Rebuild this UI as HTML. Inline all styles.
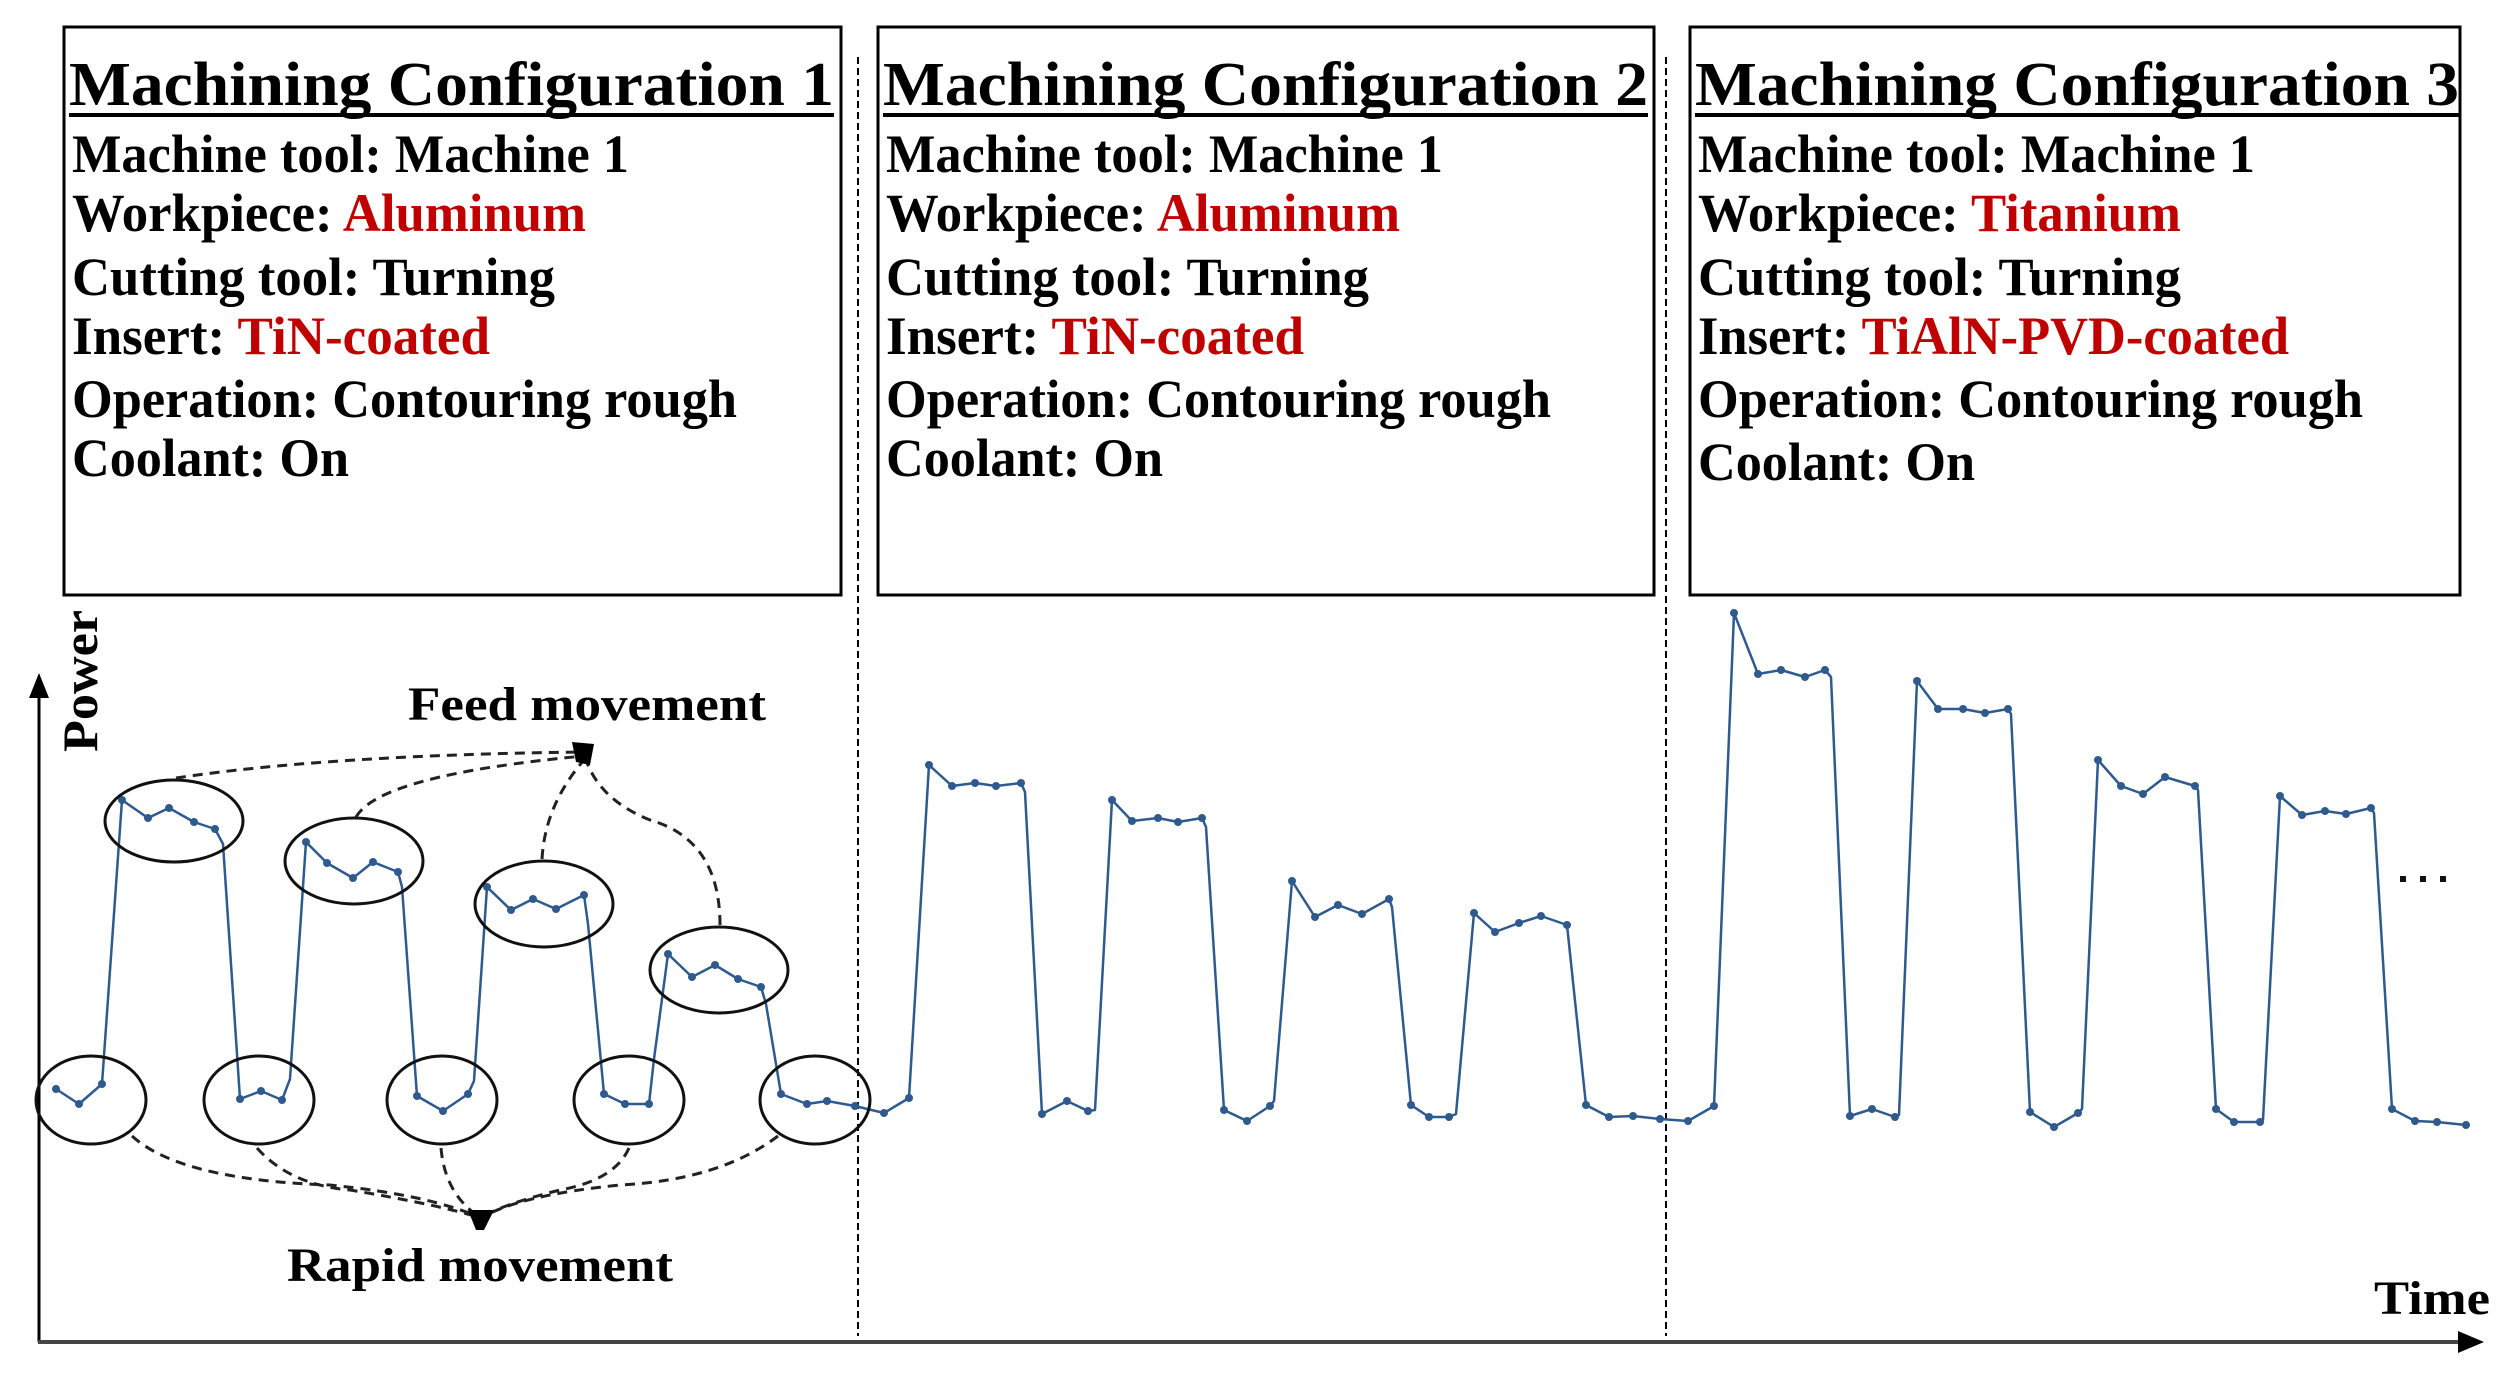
<!DOCTYPE html>
<html><head><meta charset="utf-8"><style>
html,body{margin:0;padding:0;background:#fff;}
svg{display:block;}
text{font-family:"Liberation Serif",serif;font-weight:bold;}
</style></head><body>
<svg width="2504" height="1382" viewBox="0 0 2504 1382" xmlns="http://www.w3.org/2000/svg">
<defs>
<g id="dummy"></g>
</defs>
<!-- boxes -->
<rect x="64" y="27" width="777" height="568" fill="none" stroke="#000" stroke-width="3"/>
<rect x="878" y="27" width="776" height="568" fill="none" stroke="#000" stroke-width="3"/>
<rect x="1690" y="27" width="770" height="568" fill="none" stroke="#000" stroke-width="3"/>

<!-- box1 text -->
<g font-size="62">
<text x="69" y="105" textLength="765" lengthAdjust="spacingAndGlyphs">Machining Configuration 1</text>
<text x="883" y="105" textLength="765" lengthAdjust="spacingAndGlyphs">Machining Configuration 2</text>
<text x="1695" y="105" textLength="764" lengthAdjust="spacingAndGlyphs">Machining Configuration 3</text>
</g>
<line x1="69" y1="115" x2="834" y2="115" stroke="#000" stroke-width="4"/>
<line x1="883" y1="115" x2="1648" y2="115" stroke="#000" stroke-width="4"/>
<line x1="1695" y1="115" x2="2459" y2="115" stroke="#000" stroke-width="4"/>

<g font-size="54">
<text x="72" y="172" textLength="557" lengthAdjust="spacingAndGlyphs">Machine tool: Machine 1</text>
<text x="72" y="231" textLength="514" lengthAdjust="spacingAndGlyphs">Workpiece: <tspan fill="#c00000">Aluminum</tspan></text>
<text x="72" y="295" textLength="483" lengthAdjust="spacingAndGlyphs">Cutting tool: Turning</text>
<text x="72" y="354" textLength="418" lengthAdjust="spacingAndGlyphs">Insert: <tspan fill="#c00000">TiN-coated</tspan></text>
<text x="72" y="417" textLength="665" lengthAdjust="spacingAndGlyphs">Operation: Contouring rough</text>
<text x="72" y="476" textLength="277" lengthAdjust="spacingAndGlyphs">Coolant: On</text>

<text x="886" y="172" textLength="557" lengthAdjust="spacingAndGlyphs">Machine tool: Machine 1</text>
<text x="886" y="231" textLength="514" lengthAdjust="spacingAndGlyphs">Workpiece: <tspan fill="#c00000">Aluminum</tspan></text>
<text x="886" y="295" textLength="483" lengthAdjust="spacingAndGlyphs">Cutting tool: Turning</text>
<text x="886" y="354" textLength="418" lengthAdjust="spacingAndGlyphs">Insert: <tspan fill="#c00000">TiN-coated</tspan></text>
<text x="886" y="417" textLength="665" lengthAdjust="spacingAndGlyphs">Operation: Contouring rough</text>
<text x="886" y="476" textLength="277" lengthAdjust="spacingAndGlyphs">Coolant: On</text>

<text x="1698" y="172" textLength="557" lengthAdjust="spacingAndGlyphs">Machine tool: Machine 1</text>
<text x="1698" y="231" textLength="483" lengthAdjust="spacingAndGlyphs">Workpiece: <tspan fill="#c00000">Titanium</tspan></text>
<text x="1698" y="295" textLength="483" lengthAdjust="spacingAndGlyphs">Cutting tool: Turning</text>
<text x="1698" y="354" textLength="591" lengthAdjust="spacingAndGlyphs">Insert: <tspan fill="#c00000">TiAlN-PVD-coated</tspan></text>
<text x="1698" y="417" textLength="665" lengthAdjust="spacingAndGlyphs">Operation: Contouring rough</text>
<text x="1698" y="480" textLength="277" lengthAdjust="spacingAndGlyphs">Coolant: On</text>
</g>

<!-- dividers -->
<line x1="858" y1="57" x2="858" y2="1336" stroke="#000" stroke-width="2" stroke-dasharray="7,4"/>
<line x1="1666" y1="57" x2="1666" y2="1336" stroke="#000" stroke-width="2" stroke-dasharray="7,4"/>

<!-- axes -->
<line x1="39" y1="1342" x2="39" y2="690" stroke="#000" stroke-width="3"/>
<polygon points="39,673 29,698 49,698" fill="#000"/>
<line x1="38" y1="1342" x2="2465" y2="1342" stroke="#444" stroke-width="4"/>
<polygon points="2484,1342 2458,1331 2458,1353" fill="#000"/>

<text font-size="50" transform="translate(97,752) rotate(-90)" textLength="142" lengthAdjust="spacingAndGlyphs">Power</text>
<text x="408" y="720" font-size="48" textLength="358" lengthAdjust="spacingAndGlyphs">Feed movement</text>
<text x="287" y="1281" font-size="48" textLength="386" lengthAdjust="spacingAndGlyphs">Rapid movement</text>
<text x="2374" y="1314" font-size="48" textLength="116" lengthAdjust="spacingAndGlyphs">Time</text>
<g fill="#111"><rect x="2400" y="876" width="6" height="6"/><rect x="2420" y="876" width="6" height="6"/><rect x="2440" y="876" width="6" height="6"/></g>

<!-- curve -->
<polyline fill="none" stroke="#2e5a8e" stroke-width="2.5" stroke-linejoin="round" points="
56,1089 79,1104 102,1084 122,800 148,818 169,808 194,822 215,829 223,844 240,1099 261,1091 282,1100 290,1079 306,842 327,863 353,878 373,862 398,872 402,887 417,1096 443,1111 468,1094 474,1081 487,887 511,910 533,899 556,909 584,895 588,924 604,1094 625,1104 649,1104 654,1059 668,954 692,977 715,965 738,979 761,987 766,1004 781,1094 807,1104 827,1101 855,1106 884,1113 909,1098 929,765 952,786 975,783 996,786 1021,783 1025,792 1042,1114 1067,1101 1088,1111 1095,1110 1112,800 1132,821 1158,818 1178,822 1202,818 1206,827 1224,1110 1247,1121 1270,1106 1274,1101 1292,881 1315,917 1338,905 1362,914 1389,899 1392,907 1411,1105 1429,1117 1449,1117 1456,1114 1474,913 1495,932 1519,923 1541,916 1567,925 1586,1105 1609,1117 1633,1116 1660,1119 1688,1121 1714,1106 1734,613 1758,674 1781,670 1805,677 1825,670 1831,677 1850,1116 1872,1109 1895,1117 1899,1115 1917,681 1938,709 1963,709 1985,713 2008,709 2011,714 2030,1112 2054,1127 2078,1113 2082,1109 2098,760 2121,786 2143,794 2165,777 2195,786 2198,790 2216,1109 2234,1122 2260,1122 2263,1120 2280,796 2302,815 2325,811 2346,814 2371,808 2374,813 2392,1109 2415,1121 2437,1122 2466,1125"/>
<g fill="#2e5a8e">
<circle cx="56" cy="1089" r="4"/><circle cx="79" cy="1104" r="4"/><circle cx="102" cy="1084" r="4"/><circle cx="122" cy="800" r="4"/><circle cx="148" cy="818" r="4"/><circle cx="169" cy="808" r="4"/><circle cx="194" cy="822" r="4"/><circle cx="215" cy="829" r="4"/><circle cx="240" cy="1099" r="4"/><circle cx="261" cy="1091" r="4"/><circle cx="282" cy="1100" r="4"/><circle cx="306" cy="842" r="4"/><circle cx="327" cy="863" r="4"/><circle cx="353" cy="878" r="4"/><circle cx="373" cy="862" r="4"/><circle cx="398" cy="872" r="4"/><circle cx="417" cy="1096" r="4"/><circle cx="443" cy="1111" r="4"/><circle cx="468" cy="1094" r="4"/><circle cx="487" cy="887" r="4"/><circle cx="511" cy="910" r="4"/><circle cx="533" cy="899" r="4"/><circle cx="556" cy="909" r="4"/><circle cx="584" cy="895" r="4"/><circle cx="604" cy="1094" r="4"/><circle cx="625" cy="1104" r="4"/><circle cx="649" cy="1104" r="4"/><circle cx="668" cy="954" r="4"/><circle cx="692" cy="977" r="4"/><circle cx="715" cy="965" r="4"/><circle cx="738" cy="979" r="4"/><circle cx="761" cy="987" r="4"/><circle cx="781" cy="1094" r="4"/><circle cx="807" cy="1104" r="4"/><circle cx="827" cy="1101" r="4"/><circle cx="855" cy="1106" r="4"/><circle cx="884" cy="1113" r="4"/><circle cx="909" cy="1098" r="4"/><circle cx="929" cy="765" r="4"/><circle cx="952" cy="786" r="4"/><circle cx="975" cy="783" r="4"/><circle cx="996" cy="786" r="4"/><circle cx="1021" cy="783" r="4"/><circle cx="1042" cy="1114" r="4"/><circle cx="1067" cy="1101" r="4"/><circle cx="1088" cy="1111" r="4"/><circle cx="1112" cy="800" r="4"/><circle cx="1132" cy="821" r="4"/><circle cx="1158" cy="818" r="4"/><circle cx="1178" cy="822" r="4"/><circle cx="1202" cy="818" r="4"/><circle cx="1224" cy="1110" r="4"/><circle cx="1247" cy="1121" r="4"/><circle cx="1270" cy="1106" r="4"/><circle cx="1292" cy="881" r="4"/><circle cx="1315" cy="917" r="4"/><circle cx="1338" cy="905" r="4"/><circle cx="1362" cy="914" r="4"/><circle cx="1389" cy="899" r="4"/><circle cx="1411" cy="1105" r="4"/><circle cx="1429" cy="1117" r="4"/><circle cx="1449" cy="1117" r="4"/><circle cx="1474" cy="913" r="4"/><circle cx="1495" cy="932" r="4"/><circle cx="1519" cy="923" r="4"/><circle cx="1541" cy="916" r="4"/><circle cx="1567" cy="925" r="4"/><circle cx="1586" cy="1105" r="4"/><circle cx="1609" cy="1117" r="4"/><circle cx="1633" cy="1116" r="4"/><circle cx="1660" cy="1119" r="4"/><circle cx="1688" cy="1121" r="4"/><circle cx="1714" cy="1106" r="4"/><circle cx="1734" cy="613" r="4"/><circle cx="1758" cy="674" r="4"/><circle cx="1781" cy="670" r="4"/><circle cx="1805" cy="677" r="4"/><circle cx="1825" cy="670" r="4"/><circle cx="1850" cy="1116" r="4"/><circle cx="1872" cy="1109" r="4"/><circle cx="1895" cy="1117" r="4"/><circle cx="1917" cy="681" r="4"/><circle cx="1938" cy="709" r="4"/><circle cx="1963" cy="709" r="4"/><circle cx="1985" cy="713" r="4"/><circle cx="2008" cy="709" r="4"/><circle cx="2030" cy="1112" r="4"/><circle cx="2054" cy="1127" r="4"/><circle cx="2078" cy="1113" r="4"/><circle cx="2098" cy="760" r="4"/><circle cx="2121" cy="786" r="4"/><circle cx="2143" cy="794" r="4"/><circle cx="2165" cy="777" r="4"/><circle cx="2195" cy="786" r="4"/><circle cx="2216" cy="1109" r="4"/><circle cx="2234" cy="1122" r="4"/><circle cx="2260" cy="1122" r="4"/><circle cx="2280" cy="796" r="4"/><circle cx="2302" cy="815" r="4"/><circle cx="2325" cy="811" r="4"/><circle cx="2346" cy="814" r="4"/><circle cx="2371" cy="808" r="4"/><circle cx="2392" cy="1109" r="4"/><circle cx="2415" cy="1121" r="4"/><circle cx="2437" cy="1122" r="4"/><circle cx="2466" cy="1125" r="4"/>
</g>

<!-- ellipses -->
<g fill="none" stroke="#111" stroke-width="3">
<ellipse cx="174" cy="821" rx="69" ry="41"/>
<ellipse cx="354" cy="861" rx="69" ry="43"/>
<ellipse cx="544" cy="904" rx="69" ry="43"/>
<ellipse cx="719" cy="970" rx="69" ry="43"/>
<ellipse cx="91" cy="1100" rx="55" ry="44"/>
<ellipse cx="259" cy="1100" rx="55" ry="44"/>
<ellipse cx="442" cy="1100" rx="55" ry="44"/>
<ellipse cx="629" cy="1100" rx="55" ry="44"/>
<ellipse cx="815" cy="1100" rx="55" ry="44"/>
</g>

<!-- dashed connectors -->
<g fill="none" stroke="#222" stroke-width="3" stroke-dasharray="10,7">
<path d="M176,778 Q330,755 584,752"/>
<path d="M356,817 Q380,775 584,756"/>
<path d="M542,859 Q545,805 584,760"/>
<path d="M720,925 Q720,840 650,820 Q600,800 586,760"/>
<path d="M132,1136 Q180,1180 330,1185 Q430,1195 481,1218"/>
<path d="M257,1148 Q290,1185 350,1190 Q440,1205 481,1218"/>
<path d="M441,1148 Q445,1195 481,1218"/>
<path d="M629,1148 Q615,1180 560,1190 Q500,1205 481,1218"/>
<path d="M778,1136 Q720,1180 620,1185 Q520,1195 481,1218"/>
</g>
<polygon points="572,742 594,744 590,765 576,762" fill="#000"/>
<polygon points="468,1210 494,1210 484,1230 476,1230" fill="#000"/>
</svg>
</body></html>
